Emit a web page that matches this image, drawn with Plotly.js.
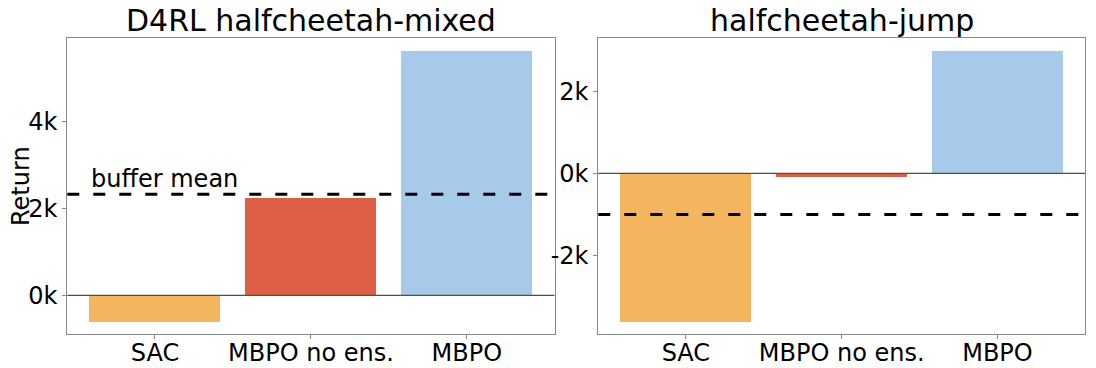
<!DOCTYPE html>
<html>
<head>
<meta charset="utf-8">
<script src="https://cdn.plot.ly/plotly-3.0.1.min.js"></script>
<style>
  html, body { margin: 0; padding: 0; background: #fff; }
  #chart { width: 1096px; height: 368px; }
</style>
</head>
<body>
<div id="chart"></div>
<script>
// ---- data ----
const categories = ["SAC", "MBPO no ens.", "MBPO"];
const barColors = ["#F3B55E", "#DE5F47", "#A7CAEB"];

const mixedTitle = "D4RL halfcheetah-mixed";
const mixedReturns = [-610, 2240, 5620];
const mixedBufferMean = 2320;
const mixedTickVals = [0, 2000, 4000];
const mixedTickText = ["0k", "2k", "4k"];

const jumpTitle = "halfcheetah-jump";
const jumpReturns = [-3600, -80, 2980];
const jumpBufferMean = -1000;
const jumpTickVals = [-2000, 0, 2000];
const jumpTickText = ["-2k", "0k", "2k"];

const bufferLabel = "buffer mean";
const yLabel = "Return";

// ---- layout ----
const FONT = "DejaVu Sans, sans-serif";
const frameColor = "#8a8a8a";

function bar(y, xa, ya) {
  return {
    type: "bar", x: categories, y: y, xaxis: xa, yaxis: ya,
    width: 0.84,
    marker: { color: barColors, line: { width: 0 } },
    hoverinfo: "skip", showlegend: false
  };
}

function xax(domain, anchor) {
  return {
    domain: domain, anchor: anchor, type: "category",
    range: [-0.562, 2.562],
    showgrid: false, zeroline: false,
    showline: true, mirror: true, linecolor: frameColor, linewidth: 1,
    ticks: "outside", ticklen: 4, tickcolor: frameColor, tickwidth: 1,
    ticklabelstandoff: -7,
    tickfont: { family: FONT, size: 24, color: "#000" },
    fixedrange: true
  };
}
function yax(domain, anchor, range, tv, tt) {
  return {
    domain: domain, anchor: anchor, range: range,
    tickmode: "array", tickvals: tv, ticktext: tt,
    showgrid: false, zeroline: false,
    showline: true, mirror: true, linecolor: frameColor, linewidth: 1,
    ticks: "outside", ticklen: 4, tickcolor: frameColor, tickwidth: 1,
    tickfont: { family: FONT, size: 24, color: "#000" },
    fixedrange: true
  };
}

const yDom = [1 - 334 / 368, 1 - 38 / 368];

const layout = {
  width: 1096, height: 368,
  margin: { l: 0, r: 0, t: 0, b: 0 },
  paper_bgcolor: "#fff", plot_bgcolor: "#fff",
  font: { family: FONT, color: "#000" },
  bargap: 0,
  xaxis: xax([67.3 / 1096, 554.5 / 1096], "y"),
  yaxis: yax(yDom, "x", [-890, 5915], mixedTickVals, mixedTickText),
  xaxis2: xax([598.3 / 1096, 1085 / 1096], "y2"),
  yaxis2: yax(yDom, "x2", [-3900, 3290], jumpTickVals, jumpTickText),
  shapes: [
    { type: "line", xref: "x domain", yref: "y", x0: 0, x1: 1, y0: 0, y1: 0,
      line: { color: "#4d4d4d", width: 1.3 } },
    { type: "line", xref: "x domain", yref: "y", x0: 0, x1: 1, y0: mixedBufferMean, y1: mixedBufferMean,
      line: { color: "#000", width: 3, dash: "12px,14px" } },
    { type: "line", xref: "x2 domain", yref: "y2", x0: 0, x1: 1, y0: 0, y1: 0,
      line: { color: "#4d4d4d", width: 1.3 } },
    { type: "line", xref: "x2 domain", yref: "y2", x0: 0, x1: 1, y0: jumpBufferMean, y1: jumpBufferMean,
      line: { color: "#000", width: 3, dash: "12px,14px" } }
  ],
  annotations: [
    { text: mixedTitle, xref: "x domain", yref: "y domain", x: 0.5, y: 1,
      xanchor: "center", yanchor: "bottom", yshift: -2, showarrow: false,
      font: { family: FONT, size: 30, color: "#000" } },
    { text: jumpTitle, xref: "x2 domain", yref: "y2 domain", x: 0.5, y: 1,
      xanchor: "center", yanchor: "bottom", yshift: -2, showarrow: false,
      font: { family: FONT, size: 30, color: "#000" } },
    { text: bufferLabel, xref: "x", yref: "y", x: -0.42, y: mixedBufferMean,
      xanchor: "left", yanchor: "bottom", yshift: -1, showarrow: false,
      font: { family: FONT, size: 24, color: "#000" } },
    { text: yLabel, xref: "paper", yref: "y domain", x: 21 / 1096, y: 0.5,
      xanchor: "center", yanchor: "middle", textangle: -90, showarrow: false,
      font: { family: FONT, size: 24, color: "#000" } }
  ]
};

Plotly.newPlot("chart", [
  bar(mixedReturns, "x", "y"),
  bar(jumpReturns, "x2", "y2")
], layout, { staticPlot: true, displayModeBar: false });
</script>
</body>
</html>
